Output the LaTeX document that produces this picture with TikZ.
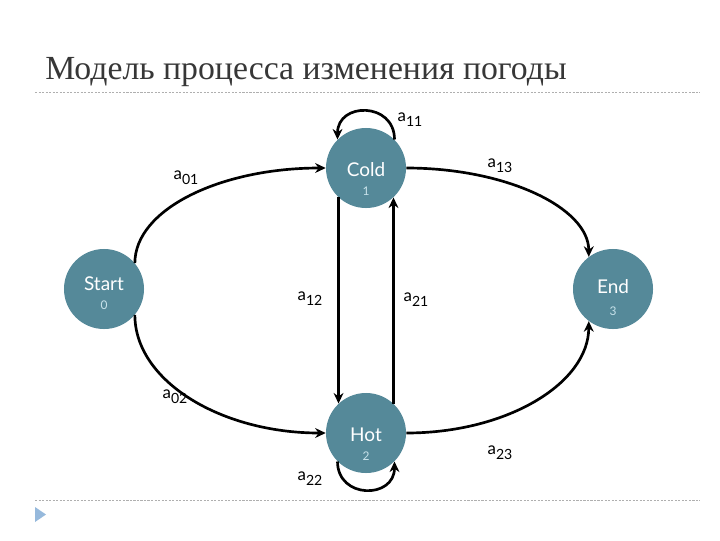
\documentclass[tikz,border=0pt]{standalone}
\usepackage{fontspec}
\setmainfont{Liberation Serif}
\newfontfamily\gillfont{Lato}
\usetikzlibrary{arrows.meta}

\definecolor{statefill}{RGB}{85,137,153}
\definecolor{numtext}{RGB}{200,226,234}
\definecolor{rulegray}{RGB}{175,175,175}
\definecolor{markblue}{RGB}{150,185,220}
\definecolor{titlegray}{RGB}{55,55,55}

\newcommand{\prb}[1]{a\raisebox{-0.6ex}{\fontsize{10}{11}\selectfont #1}}

\tikzset{
  state/.style={circle, fill=statefill, minimum size=2cm, inner sep=0pt},
  statename/.style={text=white, font=\gillfont\fontsize{13.5}{15}\selectfont},
  statenum/.style={text=numtext, font=\gillfont\fontsize{8.5}{10}\selectfont},
  prob/.style={font=\gillfont\fontsize{12}{14}\selectfont},
  trans/.style={line width=1.9pt, -{Stealth[length=7.5pt,width=7pt]}},
  sliderule/.style={rulegray, line width=0.6pt, dash pattern=on 1.5pt off 1pt}
}

\begin{document}
\begin{tikzpicture}[x=0.025cm, y=-0.025cm]
  \useasboundingbox (0,0) rectangle (720,540);

  % title and rules
  \node[anchor=base west, inner sep=0pt, text=titlegray, font=\fontsize{24}{28}\selectfont] (title) at (45,79) {Модель процесса изменения погоды};
  \draw[sliderule] (35,92) -- (700,92);
  \draw[sliderule] (35,500) -- (700,500);
  \fill[markblue] (35,507) -- (46,514.5) -- (35,522) -- cycle;

  % states
  \node[state] (start) at (104,289) {};
  \node[state] (cold) at (366,168) {};
  \node[state] (hot) at (366,433) {};
  \node[state] (end) at (613,289) {};

  \node[statename] (startname) at (104,284) {Start};
  \node[statenum] (startnum) at (104,305) {0};
  \node[statename] (coldname) at (366,170) {Cold};
  \node[statenum] (coldnum) at (366,191) {1};
  \node[statename] (hotname) at (366,435) {Hot};
  \node[statenum] (hotnum) at (366,456) {2};
  \node[statename] (endname) at (613,287) {End};
  \node[statenum] (endnum) at (613,311) {3};

  % transitions
  \draw[trans] (start.40) .. controls +(0,-54) and +(-105,0) .. (cold.west);
  \draw[trans] (start.-40) .. controls +(0,66) and +(-105,0) .. (hot.west);
  \draw[trans] (cold.east) .. controls +(100,0) and +(0,-49) .. (end.127);
  \draw[trans] (hot.east) .. controls +(101,0) and +(0,62) .. (end.-127);
  \draw[trans] (cold.-133) -- (hot.133);
  \draw[trans] (hot.47) -- (cold.-47);
  \draw[trans] (cold.45) to[out=90, in=90, looseness=1.7] (cold.135);
  \draw[trans] (hot.-135) to[out=-90, in=-90, looseness=1.7] (hot.-45);

  % probabilities
  \node[prob] (p11) at (410,120) {\prb{11}};
  \node[prob] (p01) at (186,178) {\prb{01}};
  \node[prob] (p13) at (500,166) {\prb{13}};
  \node[prob] (p12) at (310,299) {\prb{12}};
  \node[prob] (p21) at (416,300) {\prb{21}};
  \node[prob] (p02) at (175,397) {\prb{02}};
  \node[prob] (p22) at (310,479) {\prb{22}};
  \node[prob] (p23) at (500,453) {\prb{23}};
\end{tikzpicture}
\end{document}
